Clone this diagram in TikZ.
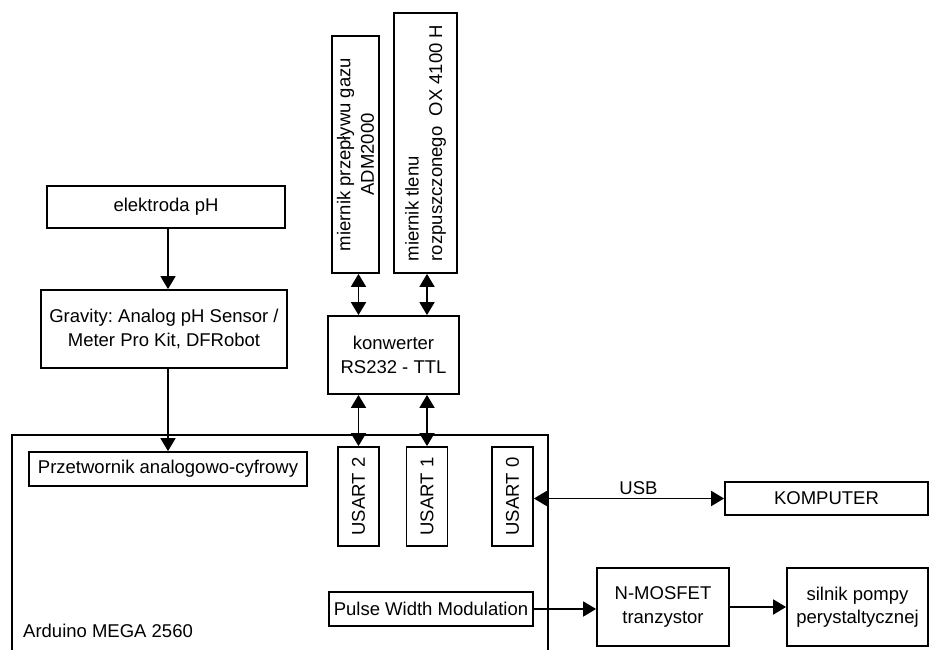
\documentclass[tikz,border=0pt]{standalone}
\usepackage{fontspec}
\setmainfont{Liberation Sans}
\usetikzlibrary{arrows.meta,positioning}
\frenchspacing

\begin{document}
\begin{tikzpicture}[x=1pt,y=-1pt,
    napis/.style={font=\fontsize{18.5}{23.5}\selectfont},
    blok/.style={napis, draw, line width=1.8pt, inner sep=1pt, align=center},
    strz/.style={line width=1.8pt, -{Triangle[length=13pt,width=15pt]}},
    dwu/.style={line width=1.8pt, {Triangle[length=13pt,width=15pt]}-{Triangle[length=13pt,width=15pt]}}]
    \useasboundingbox (0,0) rectangle (930,650);
    % pH
    \node[blok, minimum width=238, minimum height=42] (elek) at (166,207) {elektroda pH};
    \node[blok, minimum width=246, minimum height=78] (grav) at (164,329) {Gravity: Analog pH Sensor /\\Meter Pro Kit, DFRobot};
    % mierniki (pionowo)
    \node[blok, rotate=90, minimum width=237, minimum height=47] (m1) at (355.5,154.5) {miernik przepływu gazu\\ADM2000};
    \node[blok, rotate=90, align=left, minimum width=260, minimum height=63] (m2) at (425.5,143) {miernik tlenu\\rozpuszczonego~ OX 4100 H};
    \node[blok, minimum width=131, minimum height=78] (konw) at (393.5,355) {konwerter\\RS232 - TTL};
    % Arduino
    \draw[line width=1.8pt] (12,650) |- (548,435) -- (548,650);
    \node[napis, anchor=west, inner sep=2pt] (ardlbl) at (21,631) {Arduino MEGA 2560};
    \node[blok, minimum width=278, minimum height=34] (prz) at (168,469) {Przetwornik analogowo-cyfrowy};
    \node[blok, rotate=90, minimum width=99, minimum height=41] (u2) at (358.5,496.5) {USART 2};
    \node[blok, rotate=90, minimum width=99, minimum height=41] (u1) at (427,496.5) {USART 1};
    \node[blok, rotate=90, minimum width=99, minimum height=41] (u0) at (512.5,496.5) {USART 0};
    \node[blok, minimum width=204, minimum height=34] (pwm) at (431,609) {Pulse Width Modulation};
    % na zewnatrz
    \node[blok, minimum width=203, minimum height=33] (komp) at (826.5,498.5) {KOMPUTER};
    \node[blok, minimum width=132, minimum height=78] (nmos) at (663,607) {N-MOSFET\\tranzystor};
    \node[blok, minimum width=141, minimum height=78] (siln) at (857.5,607) {silnik pompy\\perystaltycznej};

    \draw[strz] (elek.south -| prz) -- (grav.north -| prz);
    \draw[strz] (grav.south -| prz) -- (prz.north);
    \draw[dwu] (m1.west -| u2) -- (konw.north -| u2);
    \draw[dwu] (m2.west -| u1) -- (konw.north -| u1);
    \draw[dwu] (konw.south -| u2) -- (u2.east);
    \draw[dwu] (konw.south -| u1) -- (u1.east);
    \draw[dwu] (u0.south |- komp.west) -- (komp.west) node[napis, pos=0.55, above] (usb) {USB};
    \draw[strz] (pwm.east) -- (pwm.east -| nmos.west);
    \draw[strz] (nmos.east) -- (siln.west);
\end{tikzpicture}
\end{document}
